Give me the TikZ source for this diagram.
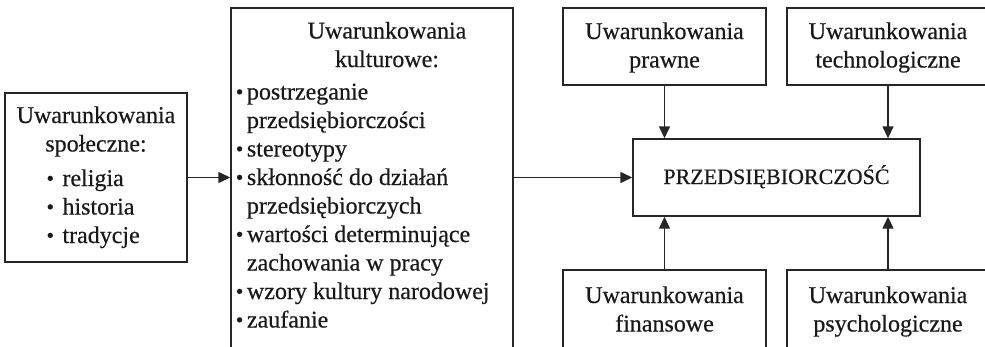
\documentclass[tikz,border=0pt]{standalone}
\usepackage{fontspec}
\usepackage{graphicx}
\setmainfont[FakeBold=0.4]{Liberation Serif}
\usetikzlibrary{arrows.meta}
\newcommand{\bul}{\raisebox{0.02em}{\scalebox{0.9}{•}}}
\begin{document}
\begin{tikzpicture}[x=1pt,y=-1pt,
  box/.style={draw=black!85, line width=1.4pt, inner sep=0pt, rectangle},
  txt/.style={inner sep=0pt, text=black!90, font=\fontsize{24}{28.5}\selectfont},
  arr/.style={line width=1.4pt, draw=black!85, -{Triangle[length=12pt,width=11pt]}}]
\useasboundingbox (0,0) rectangle (985,346);
\clip (0,0) rectangle (985,346);

% boxes
\node[box, minimum width=182pt, minimum height=169pt] (spol) at (96,177.5) {};
\node[box, minimum width=282pt, minimum height=392pt] (kult) at (372,204) {};
\node[box, minimum width=203pt, minimum height=77pt] (prawne) at (664.5,46.5) {};
\node[box, minimum width=202pt, minimum height=77pt] (tech) at (888,46.5) {};
\node[box, minimum width=287pt, minimum height=77pt] (przed) at (776.5,177.5) {};
\node[box, minimum width=203pt, minimum height=82pt] (fin) at (664.5,311) {};
\node[box, minimum width=202pt, minimum height=82pt] (psych) at (888,311) {};

% texts
\node[txt, anchor=base] (spolh) at (96,123) {\begin{tabular}[t]{@{}c@{}}Uwarunkowania\\społeczne:\end{tabular}};
\node[txt, anchor=base west] (spoll) at (46.3,186) {\begin{tabular}[t]{@{}l@{\hspace{8.4pt}}l@{}}\bul & religia\\ \bul & historia\\ \bul & tradycje\end{tabular}};

\node[txt, anchor=base] (kulth) at (387,38.5) {\begin{tabular}[t]{@{}c@{}}Uwarunkowania\\kulturowe:\end{tabular}};
\node[txt, anchor=base west] (kultl) at (235.6,99.5) {\begin{tabular}[t]{@{}l@{\hspace{3.6pt}}l@{}}
\bul & postrzeganie\\ & przedsiębiorczości\\
\bul & stereotypy\\
\bul & skłonność do działań\\ & przedsiębiorczych\\
\bul & wartości determinujące\\ & zachowania w pracy\\
\bul & wzory kultury narodowej\\
\bul & zaufanie\end{tabular}};

\node[txt, anchor=base] (prawnet) at (664.5,39) {\begin{tabular}[t]{@{}c@{}}Uwarunkowania\\prawne\end{tabular}};
\node[txt, anchor=base] (techt) at (888,39) {\begin{tabular}[t]{@{}c@{}}Uwarunkowania\\technologiczne\end{tabular}};
\node[txt, anchor=base, font=\fontsize{22}{28.5}\selectfont] (przedt) at (776.5,184) {PRZEDSIĘBIORCZOŚĆ};
\node[txt, anchor=base] (fint) at (664.5,303) {\begin{tabular}[t]{@{}c@{}}Uwarunkowania\\finansowe\end{tabular}};
\node[txt, anchor=base] (psycht) at (888,303) {\begin{tabular}[t]{@{}c@{}}Uwarunkowania\\psychologiczne\end{tabular}};

% connectors
\draw[arr] (spol.east) -- (spol.east -| kult.west);
\draw[arr] (przed.west -| kult.east) -- (przed.west);
\draw[arr] (prawne.south) -- (prawne.south |- przed.north);
\draw[arr] (tech.south) -- (tech.south |- przed.north);
\draw[arr] (fin.north) -- (fin.north |- przed.south);
\draw[arr] (psych.north) -- (psych.north |- przed.south);
\end{tikzpicture}
\end{document}
